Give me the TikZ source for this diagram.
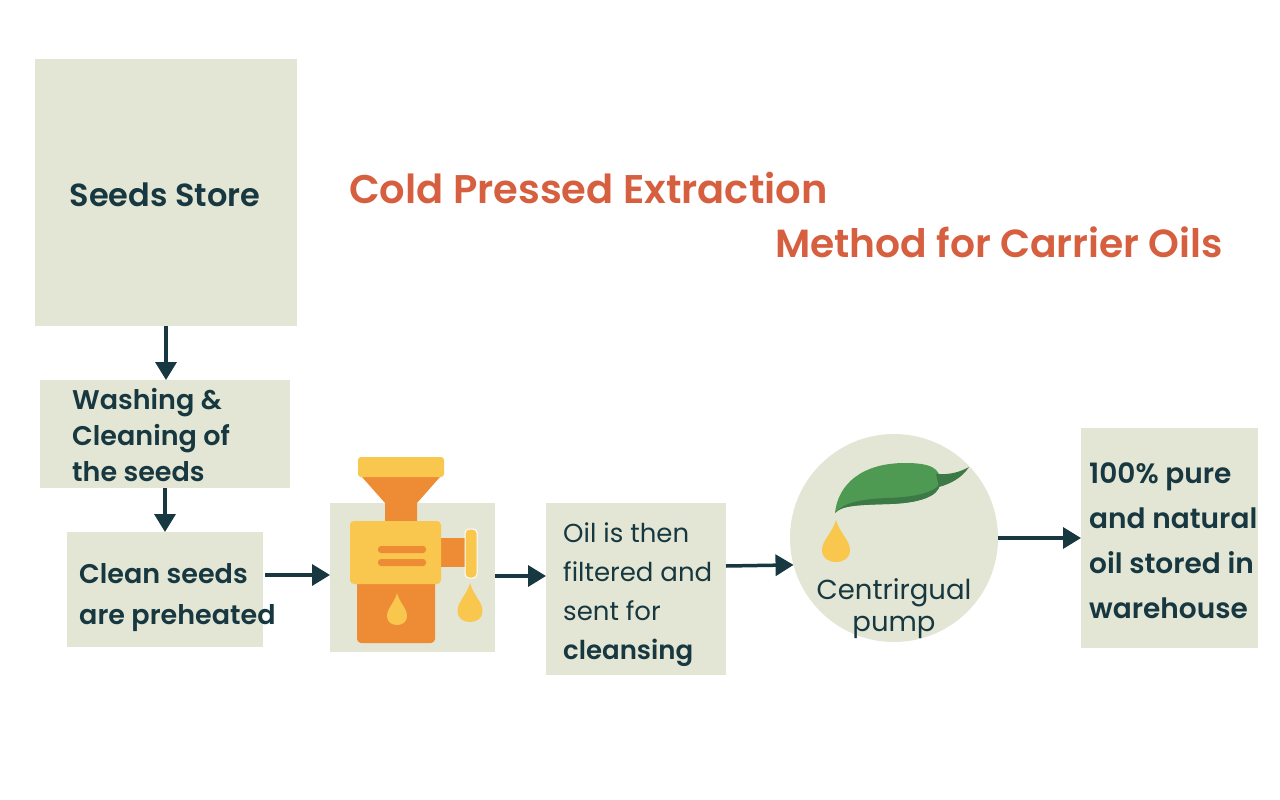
\documentclass[tikz,border=0pt]{standalone}
\usepackage{fontspec}
\setmainfont{Poppins}[BoldFont={Poppins SemiBold}]
\usetikzlibrary{arrows.meta}
\definecolor{boxfill}{HTML}{E3E6D4}
\definecolor{ink}{HTML}{173840}
\definecolor{titlec}{HTML}{D65F3F}
\definecolor{yel}{HTML}{F9C74E}
\definecolor{org}{HTML}{EE8B35}
\definecolor{leafg}{HTML}{4F9A52}
\definecolor{leafd}{HTML}{3B7A47}
\newcommand\oildrop[4]{%
  \fill[yel] (#1,#2) .. controls ({#1+0.12*#3},{#2+0.3*#4}) and ({#1+0.5*#3},{#2+0.48*#4}) .. ({#1+0.5*#3},{#2+0.72*#4})
   .. controls ({#1+0.5*#3},{#2+0.9*#4}) and ({#1+0.28*#3},{#2+#4}) .. (#1,{#2+#4})
   .. controls ({#1-0.28*#3},{#2+#4}) and ({#1-0.5*#3},{#2+0.9*#4}) .. ({#1-0.5*#3},{#2+0.72*#4})
   .. controls ({#1-0.5*#3},{#2+0.48*#4}) and ({#1-0.12*#3},{#2+0.3*#4}) .. (#1,#2) -- cycle;}
\tikzset{
  boxnode/.style={fill=boxfill, draw=none, inner sep=0pt, outer sep=0pt},
  txt/.style={text=ink, inner sep=0pt, align=left, font=\bfseries},
  flow/.style={draw=ink, line width=3.5pt, -{Triangle[length=18pt,width=21pt]}},
}
\begin{document}
\begin{tikzpicture}[x=1pt,y=-1pt]
\useasboundingbox (0,0) rectangle (1280,800);
\fill[white] (0,0) rectangle (1280,800);
% boxes
\node[boxnode, minimum width=262pt, minimum height=267pt] (seeds) at (166,192.5) {};
\node[boxnode, minimum width=250pt, minimum height=108pt] (wash) at (165,434) {};
\node[boxnode, minimum width=196pt, minimum height=115pt] (clean) at (165,589.5) {};
\node[boxnode, minimum width=165pt, minimum height=149pt] (press) at (412.5,577.5) {};
\node[boxnode, minimum width=180pt, minimum height=172pt] (filter) at (636,589) {};
\node[boxnode, circle, minimum size=208pt] (circ) at (894,538) {};
\node[boxnode, minimum width=177pt, minimum height=220pt] (final) at (1169.5,538) {};
% title
\node[text=titlec, inner sep=0pt, anchor=west, font=\fontsize{40}{44}\selectfont\bfseries] (t1) at (349,188) {Cold Pressed Extraction};
\node[text=titlec, inner sep=0pt, anchor=east, font=\fontsize{39.2}{44}\selectfont\bfseries] (t2) at (1223,242) {Method for Carrier Oils};
% texts
\node[txt, font=\fontsize{32}{36}\selectfont\bfseries] (seedst) at (165,195) {Seeds Store};
\node[txt, anchor=west, font=\fontsize{27}{36}\selectfont\bfseries] (washt) at (72,435) {Washing \&\\Cleaning of\\the seeds};
\node[txt, anchor=west, font=\fontsize{27}{41}\selectfont\bfseries] (cleant) at (79,598) {Clean seeds\\are preheated};
\node[txt, anchor=west, font=\fontsize{26}{39}\selectfont] (filtert) at (563,595) {Oil is then\\filtered and\\sent for\\\textbf{cleansing}};
\node[txt, align=center, font=\fontsize{27.5}{32}\selectfont] (circt) at (894,609) {Centrirgual\\pump};
\node[txt, anchor=west, font=\fontsize{28}{45}\selectfont\bfseries] (finalt) at (1089,541) {100\% pure\\and natural\\oil stored in\\warehouse};
% press machine
\fill[org] (362,477) -- (440,477) -- (417,503) -- (417,523) -- (385,523) -- (385,503) -- cycle;
\fill[yel, rounded corners=3pt] (358,457) rectangle (444,477);
\fill[org, rounded corners=4pt] (357,580) rectangle (435,643);
\fill[org] (438,538) rectangle (468,567);
\fill[yel, rounded corners=4pt] (350,521) rectangle (441,584);
\fill[org, rounded corners=3pt] (378,546) rectangle (426,553);
\fill[org, rounded corners=3pt] (378,559) rectangle (426,566);
\filldraw[fill=yel, draw=white, line width=1pt, rounded corners=4pt] (465,529) rectangle (477,578);
\oildrop{397}{593}{20}{32}
\oildrop{470}{583}{25}{39}
% leaf and drop in pump
\fill[leafg] (835,513) .. controls (838,484) and (862,463) .. (905,463) .. controls (930,463) and (941,468) .. (940,482) .. controls (939,497) and (918,503) .. (890,504) .. controls (860,505) and (842,505) .. (835,513) -- cycle;
\fill[leafd] (835,513) .. controls (842,505) and (860,505) .. (890,504) .. controls (918,503) and (939,497) .. (940,484) .. controls (932,494) and (912,497) .. (888,498) .. controls (860,499) and (843,503) .. (835,513) -- cycle;
\fill[leafd] (936,474) .. controls (950,475) and (960,472) .. (969,467) .. controls (962,478) and (950,484) .. (939,487) -- cycle;
\oildrop{836}{520}{28}{42}
% arrows
\draw[flow] (seeds.south) -- (seeds.south |- wash.north);
\draw[flow] (wash.south) -- (wash.south |- clean.north);
\draw[flow] ([shift={(2pt,14.5pt)}]clean.east) -- ([yshift=14.5pt]clean.east -| press.west);
\draw[flow] ([yshift=1.5pt]press.east) -- ([yshift=1.5pt]press.east -| filter.west);
\draw[flow] ([yshift=23pt]filter.east) -- (circ.195.6);
\draw[flow] (circ.east) -- (final.west);
\end{tikzpicture}
\end{document}
